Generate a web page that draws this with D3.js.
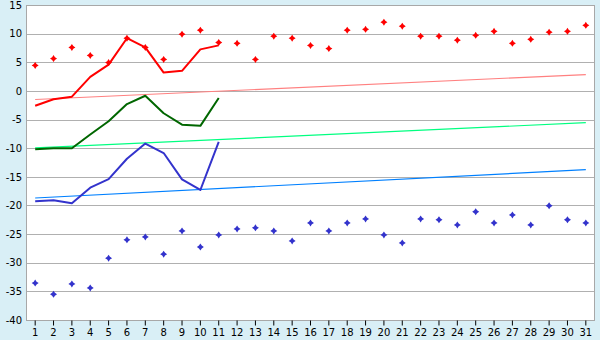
<!DOCTYPE html>
<html>
<head>
<meta charset="utf-8">
<script src="https://cdn.jsdelivr.net/npm/d3@7"></script>
<style>
  html, body { margin: 0; padding: 0; background: #d9eff6; }
  svg { display: block; }
  .tick text { font-family: "DejaVu Sans", sans-serif; font-size: 10px; fill: #000; }
</style>
</head>
<body>
<div id="chart"></div>
<script>
// Günler (kategoriler)
const days = [1, 2, 3, 4, 5, 6, 7, 8, 9, 10, 11, 12, 13, 14, 15, 16,
  17, 18, 19, 20, 21, 22, 23, 24, 25, 26, 27, 28, 29, 30, 31];

// Çizgi serileri (ilk 11 gün)
const redLine = [-2.6, -1.45, -1.0, 2.45, 4.6, 9.2, 7.6, 3.2, 3.5, 7.25, 7.95];
const greenLine = [-10.2, -10.0, -10.0, -7.6, -5.3, -2.3, -0.85, -3.9, -5.9, -6.1, -1.25];
const blueLine = [-19.25, -19.1, -19.6, -16.9, -15.4, -11.85, -9.2, -10.85, -15.45, -17.3, -8.9];

// Nokta serileri
const redPoints = [4.45, 5.65, 7.6, 6.2, 4.95, 9.2, 7.6, 5.5, 9.9, 10.6, 8.45, 8.3, 5.5, 9.55,
  9.2, 7.95, 7.4, 10.6, 10.75, 12.0, 11.3, 9.55, 9.55, 8.85, 9.7, 10.4, 8.3, 9.0, 10.25, 10.4, 11.45];
const bluePoints = [-33.55, -35.5, -33.7, -34.4, -29.2, -26.0, -25.5, -28.5, -24.45, -27.25, -25.15,
  -24.1, -23.9, -24.45, -26.2, -23.05, -24.45, -23.05, -22.35, -25.15, -26.55, -22.35, -22.5,
  -23.4, -21.1, -23.05, -21.65, -23.4, -20.05, -22.5, -23.05];

// Trend çizgileri (1. ve 31. gün değerleri)
const trendDays = [1, 31];
const redTrend = [-1.5, 2.85];
const greenTrend = [-9.95, -5.55];
const blueTrend = [-18.7, -13.75];

// Eksen etiketleri
const yTicks = [15, 10, 5, 0, -5, -10, -15, -20, -25, -30, -35, -40];

const width = 600;
const height = 340;
const plot = { left: 26, right: 595, top: 5, bottom: 320 };

const svg = d3.select('#chart')
  .append('svg')
  .attr('width', width)
  .attr('height', height);

const x = d3.scaleBand()
  .domain(days)
  .range([plot.left, plot.right])
  .padding(0);

const y = d3.scaleLinear()
  .domain([-40, 15])
  .range([plot.bottom, plot.top]);

const cx = d => x(d) + x.bandwidth() / 2;

// Çizim alanı
svg.append('rect')
  .attr('x', plot.left)
  .attr('y', plot.top)
  .attr('width', plot.right - plot.left)
  .attr('height', plot.bottom - plot.top)
  .attr('fill', '#fff');

// Yatay ızgara çizgileri
svg.append('g')
  .selectAll('line')
  .data(yTicks)
  .enter()
  .append('line')
  .attr('x1', plot.left)
  .attr('x2', plot.right)
  .attr('y1', d => Math.round(y(d)) + 0.5)
  .attr('y2', d => Math.round(y(d)) + 0.5)
  .attr('stroke', '#b0b0b0')
  .attr('stroke-width', 1);

// Çerçeve
svg.append('rect')
  .attr('x', plot.left + 0.5)
  .attr('y', plot.top + 0.5)
  .attr('width', plot.right - plot.left - 1)
  .attr('height', plot.bottom - plot.top)
  .attr('fill', 'none')
  .attr('stroke', '#a8a8a8');

// X ekseni
const xAxis = svg.append('g')
  .attr('transform', `translate(0,${plot.bottom + 0.5})`)
  .call(d3.axisBottom(x).tickSize(5).tickPadding(3).tickSizeOuter(0));
xAxis.select('.domain').remove();
xAxis.selectAll('.tick line').attr('stroke', '#000');

// Y ekseni
const yAxis = svg.append('g')
  .attr('transform', `translate(${plot.left - 1},0)`)
  .call(d3.axisLeft(y).tickValues(yTicks).tickSize(0).tickPadding(3).tickFormat(d => String(d)));
yAxis.select('.domain').remove();

// Trend çizgileri
const trendLine = d3.line()
  .x(d => cx(d.day))
  .y(d => y(d.v));

function addTrend(values, color) {
  svg.append('path')
    .datum(trendDays.map((d, i) => ({ day: d, v: values[i] })))
    .attr('d', trendLine)
    .attr('fill', 'none')
    .attr('stroke', color)
    .attr('stroke-width', 1.2);
}

addTrend(redTrend, '#ff8080');
addTrend(greenTrend, '#00ff80');
addTrend(blueTrend, '#0080ff');

// Veri çizgileri
function addLine(values, color) {
  svg.append('path')
    .datum(values.map((v, i) => ({ day: days[i], v })))
    .attr('d', trendLine)
    .attr('fill', 'none')
    .attr('stroke', color)
    .attr('stroke-width', 2)
    .attr('stroke-linejoin', 'round');
}

addLine(redLine, '#ff0000');
addLine(greenLine, '#006600');
addLine(blueLine, '#3333cc');

// Noktalar
const marker = 'M0,-3.5L1.4,-1.4L3.5,0L1.4,1.4L0,3.5L-1.4,1.4L-3.5,0L-1.4,-1.4Z';

function addPoints(values, color) {
  svg.append('g')
    .selectAll('path')
    .data(values.map((v, i) => ({ day: days[i], v })))
    .enter()
    .append('path')
    .attr('d', marker)
    .attr('transform', d => `translate(${cx(d.day)},${y(d.v)})`)
    .attr('fill', color);
}

addPoints(redPoints, '#ff0000');
addPoints(bluePoints, '#3333cc');
</script>
</body>
</html>
